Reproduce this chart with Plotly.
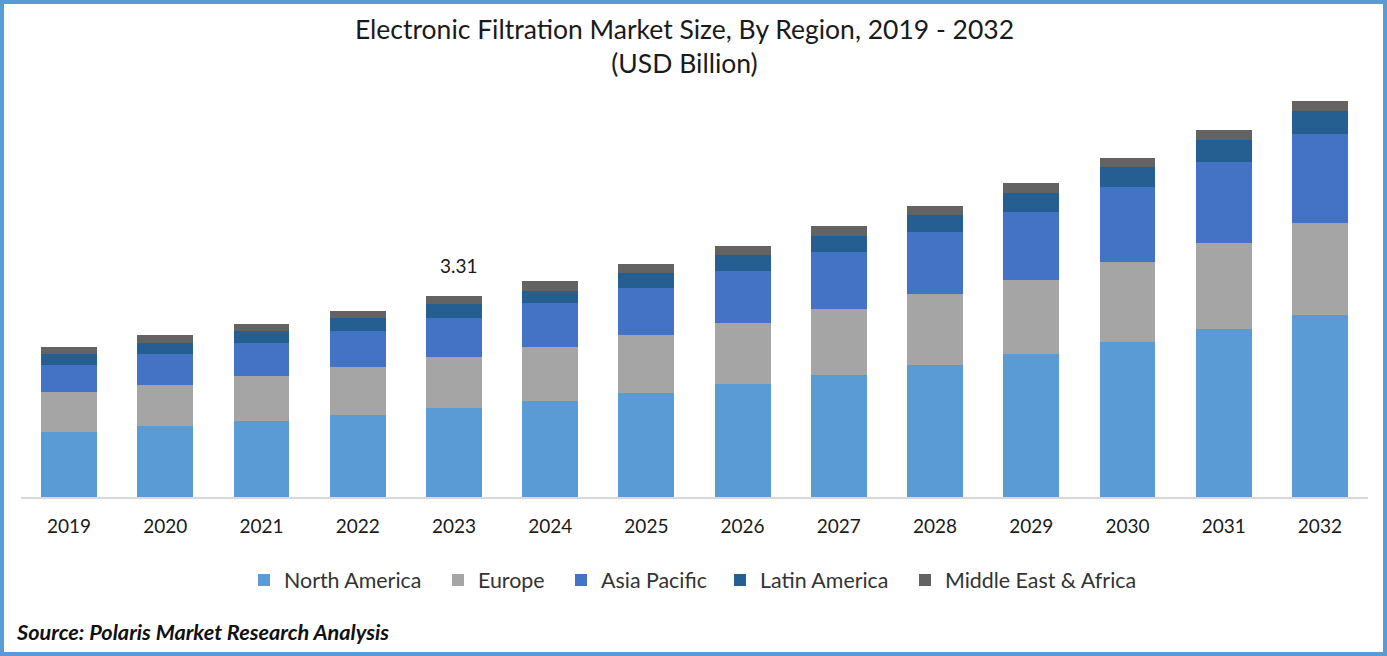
import plotly.graph_objects as go

years = ["2019","2020","2021","2022","2023","2024","2025","2026","2027","2028","2029","2030","2031","2032"]
north_america = [1.07,1.17,1.25,1.35,1.47,1.58,1.71,1.86,2.01,2.17,2.35,2.55,2.77,3.00]
europe = [.66,.68,.74,.79,.84,.89,.96,1.00,1.09,1.17,1.23,1.32,1.42,1.51]
asia_pacific = [.44,.51,.54,.59,.64,.72,.77,.86,.94,1.02,1.12,1.23,1.33,1.47]
latin_america = [.18,.18,.20,.21,.23,.21,.25,.26,.26,.28,.31,.33,.36,.38]
middle_east = [.12,.12,.12,.13,.13,.15,.15,.15,.16,.16,.16,.16,.16,.16]
series = [("North America", north_america, "#5B9BD5"),
          ("Europe", europe, "#A5A5A5"),
          ("Asia Pacific", asia_pacific, "#4472C4"),
          ("Latin America", latin_america, "#255E91"),
          ("Middle East & Africa", middle_east, "#636363")]
FONT = "Lato"
L, R, T, B = 21, 19, 60, 159
plot_w = 1387 - L - R
plot_h = 656 - T - B
legend_left_px = [244, 438, 561, 720, 905]

fig = go.Figure()
legends = {}
for i, (name, vals, col) in enumerate(series):
    key = "legend" if i == 0 else f"legend{i+1}"
    fig.add_trace(go.Bar(x=years, y=vals, name=name, legend=key, showlegend=True,
                         marker=dict(color=col, line=dict(width=0))))
    legends[key] = dict(x=(legend_left_px[i] - L) / plot_w, xanchor="left",
                        y=-(580 - 497) / plot_h, yanchor="middle", orientation="h",
                        font=dict(size=21.4, color="#333333"),
                        itemwidth=30, bgcolor="rgba(0,0,0,0)")
fig.update_layout(
    barmode="stack", bargap=0.42, width=1387, height=656,
    margin=dict(l=L, r=R, t=T, b=B), autosize=False,
    paper_bgcolor="white", plot_bgcolor="white",
    font=dict(family=FONT, size=20, color="#1a1a1a"),
    title=dict(text="Electronic Filtration Market Size, By Region, 2019 - 2032<br>(USD Billion)",
               x=0.4935, xanchor="center", y=0.9406, yanchor="top", font=dict(size=26.5, color="#1a1a1a")),
    xaxis=dict(type="category", categoryorder="array", categoryarray=years, range=[-0.5, 13.5],
               showline=True, linecolor="#D9D9D9", linewidth=2, ticks="",
               tickfont=dict(size=19, color="#1a1a1a"), showgrid=False, ticklabelstandoff=11),
    yaxis=dict(visible=False, range=[0, 7.196], showgrid=False),
    annotations=[
        dict(x=years.index("2023"), y=3.31, text="3.31", showarrow=False, yshift=30, xshift=5,
             font=dict(size=19, color="#1a1a1a")),
        dict(xref="paper", yref="paper", x=-0.0055, y=-(632 - 497) / plot_h, xanchor="left", yanchor="middle",
             text="<b><i>Source: Polaris Market Research Analysis</i></b>", showarrow=False,
             font=dict(size=21.7, color="#111111")),
    ],
    shapes=[dict(type="rect", xref="paper", yref="paper",
                 x0=(2 - L) / plot_w, x1=(1385 - L) / plot_w,
                 y0=-(654 - 497) / plot_h, y1=1 + (T - 2) / plot_h,
                 line=dict(color="#5B9BD5", width=4), layer="below")],
    **legends,
)
fig.write_html("out.html", config={"displayModeBar": False},
               post_script="document.body.style.margin='0';")
